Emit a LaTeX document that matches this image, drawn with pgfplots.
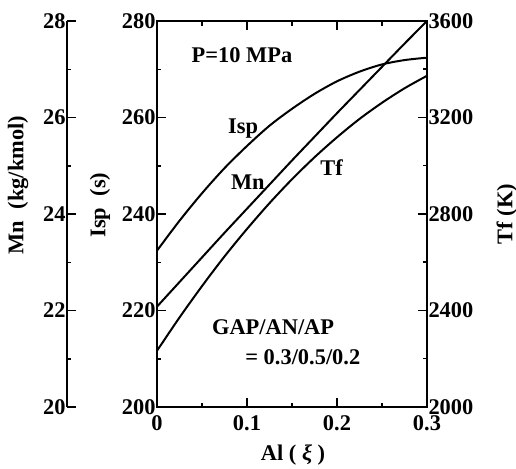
\documentclass[border=0pt]{standalone}
\usepackage{pgfplots}
\pgfplotsset{compat=1.18}
\usepackage{fontspec}
\setmainfont{Liberation Serif}
\begin{document}
\begin{tikzpicture}
\pgfplotsset{
 base/.style={scale only axis, width=270bp, height=386bp, xmin=0, xmax=0.3,
   font=\fontsize{22.5}{27}\selectfont\bfseries,
   /pgf/number format/assume math mode=true,
   /pgf/number format/1000 sep={},
   scaled ticks=false, tick align=inside,
   major tick length=9bp, minor tick length=4.5bp,
   every tick/.style={line width=1.5bp, black},
   axis line style={line width=2bp},
   tick label style={font=\fontsize{22.5}{27}\selectfont\bfseries},
   clip=false,
 },
 curve/.style={black, line width=2bp, smooth, no markers},
}
% main axis: Isp
\begin{axis}[base, ymin=200, ymax=280,
  ytick={200,220,240,260,280}, minor ytick={210,230,250,270},
  xtick={0,0.1,0.2,0.3}, minor xtick={0.05,0.15,0.25},
  xticklabels={0,0.1,0.2,0.3},
  xtick pos=both, xticklabel pos=lower, ytick pos=left,
  xticklabel style={yshift=-5bp}, yticklabel style={xshift=2bp}]
\addplot[curve] coordinates {
 (0,232.4) (0.025,238.6) (0.05,244.3) (0.075,249.5) (0.1,254.1)
 (0.125,258.3) (0.15,261.8) (0.175,264.9) (0.2,267.5) (0.225,269.5)
 (0.25,271.0) (0.275,271.9) (0.3,272.4)};
\node at (axis cs:0.0944,273) {P=10 MPa};
\node at (axis cs:0.0956,257.8) {Isp};
\node at (axis cs:0.101,246.6) {Mn};
\node at (axis cs:0.194,249.7) {Tf};
\node at (axis cs:0.129,216.6) {GAP/AN/AP};
\node at (axis cs:0.162,210.4) {= 0.3/0.5/0.2};
\node[rotate=90] at (axis description cs:-0.211,0.523) {Isp\ \ (s)};
\node[rotate=90] at (axis description cs:-0.515,0.575) {Mn\ \ (kg/kmol)};
\node[rotate=90] at (axis description cs:1.296,0.50) {Tf (K)};
\node at (axis description cs:0.504,-0.124) {Al ( \textit{ξ} )};
\end{axis}
% Tf axis on the right
\begin{axis}[base, ymin=2000, ymax=3600, axis y line*=right, axis x line=none,
  ytick={2000,2400,2800,3200,3600}, minor ytick={2200,2600,3000,3400},
  yticklabel style={xshift=-2bp}]
\addplot[curve] coordinates {
 (0,2233) (0.025,2371) (0.05,2501) (0.075,2624) (0.1,2738) (0.125,2845)
 (0.15,2944) (0.175,3035) (0.2,3118) (0.225,3194) (0.25,3261)
 (0.275,3321) (0.3,3373)};
\end{axis}
% Mn curve
\begin{axis}[base, ymin=20, ymax=28, hide axis]
\addplot[curve] coordinates {
 (0,22.08) (0.025,22.59) (0.05,23.10) (0.075,23.61) (0.1,24.11)
 (0.125,24.61) (0.15,25.11) (0.175,25.60) (0.2,26.09) (0.225,26.57)
 (0.25,27.05) (0.275,27.53) (0.3,28.00)};
\end{axis}
% Mn scale axis
\begin{axis}[base, at={(-90bp,0bp)}, width=1bp, xmin=0, xmax=1,
  ymin=20, ymax=28, axis y line*=left, axis x line=none,
  ytick={20,22,24,26,28}, minor ytick={21,23,25,27},
  yticklabel style={xshift=2bp}]
\addplot[draw=none] coordinates {(0,20)};
\end{axis}
\pgfresetboundingbox
\path[use as bounding box] (-157bp,-62bp) rectangle (359bp,407bp);
\end{tikzpicture}
\end{document}
